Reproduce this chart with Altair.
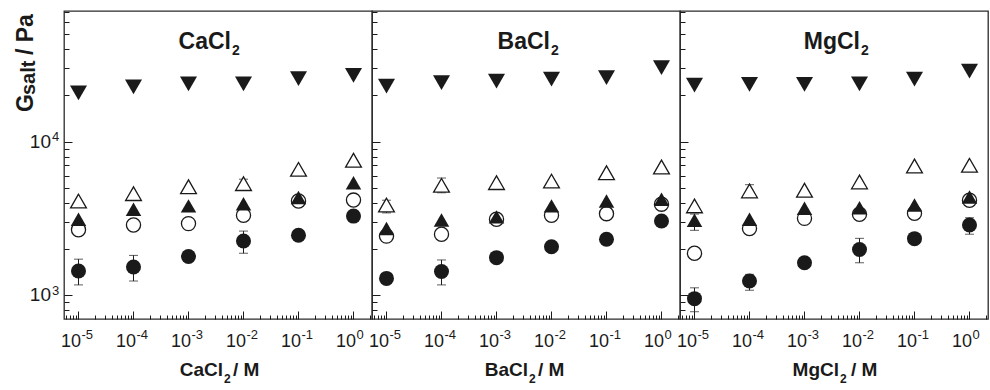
import altair as alt
import pandas as pd

# salt concentrations (M) at which the gels were measured
concentrations = [1e-5, 1e-4, 1e-3, 1e-2, 1e-1, 1e0]
salts = ["CaCl2", "BaCl2", "MgCl2"]
salt_stems = ["CaCl", "BaCl", "MgCl"]

# G_salt (Pa) for each sample series, per salt
ca_filled_down = [20800, 22700, 23800, 23800, 25700, 27000]
ca_open_up = [4110, 4590, 5090, 5330, 6610, 7570]
ca_filled_up = [3130, 3630, 3820, 3950, 4330, 5410]
ca_open_circle = [2670, 2870, 2930, 3320, 4110, 4170]
ca_filled_circle = [1440, 1530, 1790, 2260, 2460, 3280]

ba_filled_down = [23000, 24200, 24800, 25500, 26100, 30300]
ba_open_up = [3870, 5200, 5410, 5540, 6280, 6840]
ba_filled_up = [2720, 3090, 3240, 3820, 4110, 4220]
ba_open_circle = [2430, 2500, 3130, 3320, 3400, 3920]
ba_filled_circle = [1290, 1430, 1760, 2070, 2320, 3050]

mg_filled_down = [23300, 23600, 23600, 23800, 25500, 28800]
mg_open_up = [3820, 4780, 4830, 5470, 6950, 7020]
mg_filled_up = [3080, 3130, 3690, 3720, 3870, 4370]
mg_open_circle = [1880, 2720, 3170, 3370, 3420, 4160]
mg_filled_circle = [952, 1240, 1630, 1990, 2340, 2870]

series = {
    "CaCl2": {"filled_circle": ca_filled_circle, "open_circle": ca_open_circle,
              "filled_up": ca_filled_up, "open_up": ca_open_up, "filled_down": ca_filled_down},
    "BaCl2": {"filled_circle": ba_filled_circle, "open_circle": ba_open_circle,
              "filled_up": ba_filled_up, "open_up": ba_open_up, "filled_down": ba_filled_down},
    "MgCl2": {"filled_circle": mg_filled_circle, "open_circle": mg_open_circle,
              "filled_up": mg_filled_up, "open_up": mg_open_up, "filled_down": mg_filled_down},
}

# error bars: salt, concentration, low, high
err_salt = ["CaCl2", "CaCl2", "CaCl2", "CaCl2", "CaCl2",
            "BaCl2", "BaCl2", "BaCl2",
            "MgCl2", "MgCl2", "MgCl2", "MgCl2", "MgCl2", "MgCl2"]
err_conc = [1e-5, 1e-4, 1e-2, 1e-2, 1e-2,
            1e-5, 1e-4, 1e-4,
            1e-5, 1e-5, 1e-4, 1e-4, 1e-2, 1e0]
err_low = [1170, 1240, 1880, 4900, 3130,
           3440, 1170, 4650,
           2650, 783, 1080, 4350, 1630, 2500]
err_high = [1720, 1820, 2620, 5700, 3510,
            4160, 1700, 5800,
            3380, 1120, 1370, 5250, 2350, 3200]

# tick labels: base "10" with exponent
x_major = [1e-5, 1e-4, 1e-3, 1e-2, 1e-1, 1e0]
x_exponents = ["-5", "-4", "-3", "-2", "-1", "0"]
y_major = [1e3, 1e4]
y_exponents = ["3", "4"]

x_minor = [m * 10.0 ** k for k in range(-6, 1) for m in range(2, 10)
           if 5.45e-6 <= m * 10.0 ** k <= 2.17]
y_minor = [m * 10.0 ** k for k in range(2, 5) for m in range(2, 10)
           if 702 <= m * 10.0 ** k <= 70800]

rows = []
for s in salts:
    for name, vals in series[s].items():
        for c, g in zip(concentrations, vals):
            rows.append({"salt": s, "series": name, "conc": c, "G": g})
df = pd.DataFrame(rows)
err = pd.DataFrame({"salt": err_salt, "conc": err_conc, "lo": err_low, "hi": err_high})
xlab = pd.DataFrame({"conc": x_major, "base": ["10"] * len(x_major), "exp": x_exponents})
ylab = pd.DataFrame({"G": y_major, "base": ["10"] * len(y_major), "exp": y_exponents})

xs = alt.Scale(type="log", domain=[5.45e-6, 2.17], nice=False)
ys = alt.Scale(type="log", domain=[702, 70800], nice=False)

FONT = "Liberation Sans"
INK = "#1a1a1a"
W = H = 308


def tick_axis(orient, values, size):
    return alt.Axis(orient=orient, values=values, labels=False, tickSize=size, offset=-size,
                    domain=False, grid=False, title=None, tickColor=INK, tickWidth=1)


def text_layer(txt, x, y, size, align="left", angle=0):
    one = pd.DataFrame({"t": [txt]})
    return alt.Chart(one).mark_text(font=FONT, fontWeight="bold", fontSize=size, align=align,
                                    baseline="alphabetic", angle=angle, color=INK).encode(
        text="t:N", x=alt.value(x), y=alt.value(y))


title_end = [167, 178, 180]
xtitle_end = [159, 156, 159]
xtitle_slash = [169, 166, 171]


def panel(i):
    s = salts[i]
    d = df[df.salt == s]
    e = err[err.salt == s]

    def pts(name):
        return alt.Chart(d[d.series == name])

    X = alt.X("conc:Q", scale=xs, axis=None)
    Y = alt.Y("G:Q", scale=ys, axis=None)

    axes_major = pts("filled_circle").mark_point(opacity=0).encode(
        x=alt.X("conc:Q", scale=xs, axis=tick_axis("bottom", x_major, 8)),
        y=alt.Y("G:Q", scale=ys, axis=tick_axis("left", y_major, 8)))
    axes_minor = pts("filled_circle").mark_point(opacity=0).encode(
        x=alt.X("conc:Q", scale=xs, axis=tick_axis("bottom", x_minor, 4)),
        y=alt.Y("G:Q", scale=ys, axis=tick_axis("left", y_minor, 5)))

    xbase = alt.Chart(xlab).mark_text(font=FONT, fontSize=18, align="right", baseline="alphabetic",
                                      dx=2.5, color=INK).encode(
        x=X, y=alt.value(336), text="base:N")
    xexp = alt.Chart(xlab).mark_text(font=FONT, fontSize=13, align="left", baseline="alphabetic",
                                     dx=3, color=INK).encode(
        x=X, y=alt.value(328), text="exp:N")

    bars = alt.Chart(e).mark_rule(color=INK, strokeWidth=1).encode(
        x=X, y=alt.Y("lo:Q", scale=ys, axis=None), y2="hi:Q")
    cap_lo = alt.Chart(e).mark_tick(orient="horizontal", size=9, thickness=1, color=INK).encode(
        x=X, y=alt.Y("lo:Q", scale=ys, axis=None))
    cap_hi = alt.Chart(e).mark_tick(orient="horizontal", size=9, thickness=1, color=INK).encode(
        x=X, y=alt.Y("hi:Q", scale=ys, axis=None))

    fc = pts("filled_circle").mark_point(shape="circle", filled=True, size=225, color=INK,
                                         opacity=1).encode(x=X, y=Y)
    oc = pts("open_circle").mark_point(shape="circle", fill="white", stroke=INK, size=200,
                                       strokeWidth=1.3, opacity=1).encode(x=X, y=Y)
    fu = pts("filled_up").mark_point(shape="triangle-up", filled=True, size=240, color=INK,
                                     opacity=1).encode(x=X, y=Y)
    ou = pts("open_up").mark_point(shape="triangle-up", fill="white", stroke=INK, size=250,
                                   strokeWidth=1.3, opacity=1).encode(x=X, y=Y)
    fd = pts("filled_down").mark_point(shape="triangle-down", filled=True, size=290, color=INK,
                                       opacity=1).encode(x=X, y=Y)

    texts = [
        text_layer(salt_stems[i], title_end[i], 38, 23, align="right"),
        text_layer("2", title_end[i] + 1, 44, 14),
        text_layer(salt_stems[i], xtitle_end[i], 365, 19, align="right"),
        text_layer("2", xtitle_end[i] + 1, 372, 12),
        text_layer("/ M", xtitle_slash[i], 365, 19),
    ]

    layers = [axes_major, axes_minor, xbase, xexp, bars, cap_lo, cap_hi, fc, oc, fu, ou, fd] + texts

    if i == 0:
        layers += [
            alt.Chart(ylab).mark_text(font=FONT, fontSize=19, align="right", baseline="alphabetic",
                                      dy=6, color=INK).encode(
                x=alt.value(-13), y=Y, text="base:N"),
            alt.Chart(ylab).mark_text(font=FONT, fontSize=13, align="left", baseline="alphabetic",
                                      dy=-0.5, color=INK).encode(
                x=alt.value(-12), y=Y, text="exp:N"),
            # rotated y title: G with subscript "salt"
            text_layer("G", -31, 101, 23, angle=270),
            text_layer("salt", -29, 84, 20, angle=270),
            text_layer("/ Pa", -31, 44, 23, angle=270),
        ]
        # white anchors that fix the outer extent of the figure
        one = pd.DataFrame({"t": [0]})
        layers += [
            alt.Chart(one).mark_rule(color="white", strokeWidth=1).encode(
                x=alt.value(-62.5), y=alt.value(0), y2=alt.value(8)),
            alt.Chart(one).mark_rule(color="white", strokeWidth=1).encode(
                x=alt.value(0), x2=alt.value(8), y=alt.value(-9.5)),
        ]

    return alt.layer(*layers).resolve_axis(x="independent", y="independent").properties(
        width=W, height=H)


chart = alt.hconcat(panel(0), panel(1), panel(2), spacing=0, bounds="flush").properties(
    padding=0, background="white"
).configure_view(stroke="#2b2b2b", strokeWidth=1.3)

chart.save("out.html", embed_options={"renderer": "svg", "actions": False})
